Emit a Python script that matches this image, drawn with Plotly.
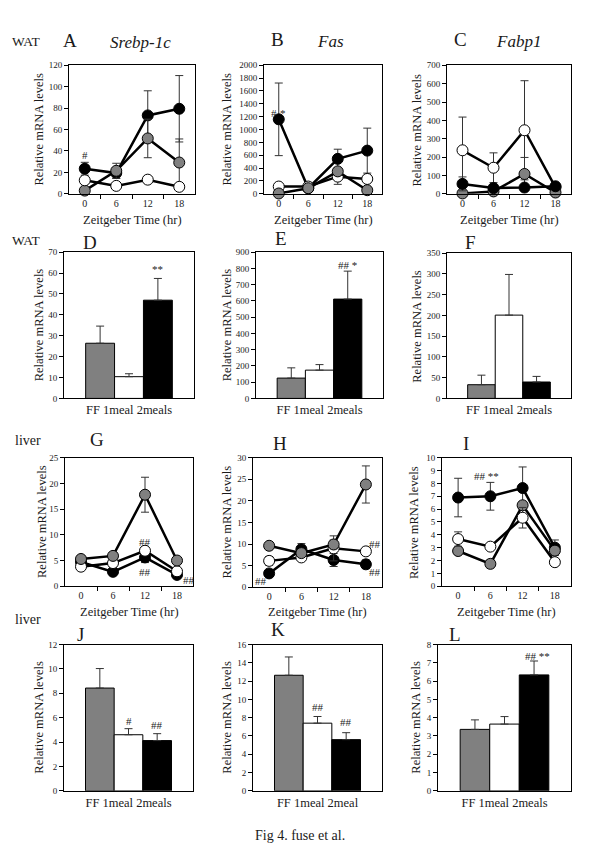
import plotly.graph_objects as go

# ---------------- data ----------------
ZT = [0, 6, 12, 18]
ZT_labels = ["0", "6", "12", "18"]
GROUPS = ["FF", "1meal", "2meals"]

# WAT time courses
A_black = [23.4, 19.4, 73.2, 79.4]; A_black_err = [6, 5, 23, 31]
A_gray = [3, 21.5, 51.7, 29.2];     A_gray_err = [1, 7, 18, 22]
A_white = [12.6, 7.4, 13.2, 6.5];   A_white_err = [3, 2, 3, 2]

B_black = [1159, 87, 544, 672];     B_black_err = [565, 20, 150, 350]
B_gray = [5, 87, 349, 56];          B_gray_err = [5, 20, 60, 20]
B_white = [113, 113, 267, 231];     B_white_err = [20, 20, 120, 30]

C_black = [54, 31, 34, 41];         C_black_err = [38, 10, 10, 10]
C_gray = [2, 13, 108, 7];           C_gray_err = [2, 5, 90, 3]
C_white = [237, 142, 346, 35];      C_white_err = [181, 81, 270, 10]

# WAT bars (FF, 1meal, 2meals)
D_vals = [26.4, 10.4, 47.0];  D_err = [8.2, 1.4, 10.4]
E_vals = [125, 174, 611];     E_err = [63, 34, 172]
F_vals = [33, 200.6, 39.5];   F_err = [23, 98, 13.5]

# liver time courses
G_black = [4.7, 2.8, 5.6, 2.2];     G_black_err = [0.3, 0.3, 1.0, 0.3]
G_gray = [5.3, 5.9, 17.8, 5.0];     G_gray_err = [0.3, 0.3, 3.4, 0.3]
G_white = [3.8, 4.5, 6.9, 2.9];     G_white_err = [0.3, 0.3, 0.5, 0.3]

H_black = [3.2, 8.8, 6.3, 5.3];     H_black_err = [0.5, 1.3, 1.5, 1.0]
H_gray = [9.6, 7.9, 9.9, 23.8];     H_gray_err = [0.5, 0.5, 1.0, 4.3]
H_white = [6.1, 6.9, 9.0, 8.3];     H_white_err = [1.0, 0.6, 2.9, 0.5]

I_black = [6.9, 7.0, 7.64, 3.0];    I_black_err = [1.5, 1.08, 1.64, 0.6]
I_gray = [2.74, 1.74, 6.3, 2.77];   I_gray_err = [0.25, 0.3, 0.3, 0.3]
I_white = [3.67, 3.08, 5.33, 1.87]; I_white_err = [0.56, 0.1, 0.8, 0.1]

# liver bars
J_vals = [8.43, 4.6, 4.12];   J_err = [1.6, 0.5, 0.57]
K_vals = [12.64, 7.4, 5.6];   K_err = [2.0, 0.73, 0.76]
L_vals = [3.36, 3.65, 6.34];  L_err = [0.52, 0.41, 0.76]

# ---------------- layout helpers ----------------
W, H = 600, 867
FONT = "Liberation Serif, Times New Roman, DejaVu Serif, serif"
TXT = "#1a1a1a"
GRAY = "#808080"
BAR_POS = [-1, 0, 1]

def xd(a, b):
    return [a / W, b / W]

def yd(top, bot):
    return [1 - bot / H, 1 - top / H]

# panel: (kind, x0, x1, ytop, ybot, ymax, dtick)
panels = {
    "A": ("line", 69, 195, 61, 191, 120, 20),
    "B": ("line", 264, 382, 61, 191, 2000, 200),
    "C": ("line", 447, 571, 61, 191, 700, 100),
    "D": ("bar", 64, 194, 250, 398, 70, 10),
    "E": ("bar", 256, 383, 250, 398, 900, 100),
    "F": ("bar", 447, 571, 251, 398, 350, 50),
    "G": ("line", 65, 193, 458, 588, 25, 5),
    "H": ("line", 253, 382, 458, 589, 30, 5),
    "I": ("line", 442, 571, 458, 588, 10, 1),
    "J": ("bar", 64, 193, 647, 795, 12, 2),
    "K": ("bar", 253, 382, 647, 795, 16, 2),
    "L": ("bar", 438, 571, 647, 795, 8, 1),
}
bar_labels = {"D": "FF 1meal 2meals", "E": "FF 1meal 2meals", "F": "FF 1meal 2meals",
              "J": "FF 1meal 2meals", "K": "FF 1meal 2meal", "L": "FF 1meal 2meals"}

line_data = {
    "A": [(A_black, A_black_err, "black"), (A_gray, A_gray_err, GRAY), (A_white, A_white_err, "white")],
    "B": [(B_black, B_black_err, "black"), (B_white, B_white_err, "white"), (B_gray, B_gray_err, GRAY)],
    "C": [(C_white, C_white_err, "white"), (C_gray, C_gray_err, GRAY), (C_black, C_black_err, "black")],
    "G": [(G_black, G_black_err, "black"), (G_white, G_white_err, "white"), (G_gray, G_gray_err, GRAY)],
    "H": [(H_black, H_black_err, "black"), (H_white, H_white_err, "white"), (H_gray, H_gray_err, GRAY)],
    "I": [(I_black, I_black_err, "black"), (I_gray, I_gray_err, GRAY), (I_white, I_white_err, "white")],
}
bar_data = {"D": (D_vals, D_err), "E": (E_vals, E_err), "F": (F_vals, F_err),
            "J": (J_vals, J_err), "K": (K_vals, K_err), "L": (L_vals, L_err)}

fig = go.Figure()
layout = dict(width=W, height=H, margin=dict(l=0, r=0, t=0, b=0),
              paper_bgcolor="white", plot_bgcolor="white", showlegend=False,
              font=dict(family=FONT, color=TXT))
annotations = []
axis_ref = {}

for i, (name, (kind, x0, x1, yt, yb, ymax, dt)) in enumerate(panels.items(), start=1):
    sfx = "" if i == 1 else str(i)
    xa, ya = "x" + sfx, "y" + sfx
    axis_ref[name] = (xa, ya)
    yax = dict(domain=yd(yt, yb), anchor=xa, range=[0, ymax], dtick=dt, tick0=0,
               showgrid=False, zeroline=False, showline=True, linecolor="black",
               linewidth=1, mirror=True, ticks="outside", ticklen=4, tickwidth=1,
               tickcolor="black", tickfont=dict(family=FONT, size=9, color=TXT))
    if kind == "line":
        xax = dict(domain=xd(x0, x1), anchor=ya, range=[-3, 21], tickmode="array",
                   tickvals=ZT, ticktext=ZT_labels, ticks="", showgrid=False,
                   zeroline=False, showline=True, linecolor="black", linewidth=1,
                   mirror=True, tickfont=dict(family=FONT, size=10, color=TXT),
                   minor=dict(tickvals=[3, 9, 15], ticks="outside", ticklen=4,
                              tickcolor="black", tickwidth=1))
        for vals, err, col in line_data[name]:
            fig.add_trace(go.Scatter(
                x=ZT, y=vals, mode="lines+markers", xaxis=xa, yaxis=ya,
                line=dict(color="black", width=2.5),
                marker=dict(size=11, color=col, line=dict(color="black", width=1)),
                error_y=dict(type="data", array=err, color="#333333", thickness=1, width=4),
                cliponaxis=False))
        ty = 218 if yb < 300 else 614
        annotations.append(dict(text="Zeitgeber Time (hr)", x=(x0 + x1) / 2 / W,
                                y=1 - ty / H, xref="paper", yref="paper",
                                showarrow=False, font=dict(family=FONT, size=12.5, color=TXT),
                                xanchor="center", yanchor="middle"))
    else:
        xax = dict(domain=xd(x0, x1), anchor=ya, range=[-2.25, 2.25], tickmode="array",
                   tickvals=[0], ticktext=[bar_labels[name]], ticks="", showgrid=False,
                   zeroline=False, showline=True, linecolor="black", linewidth=1,
                   mirror=True, tickfont=dict(family=FONT, size=12.5, color=TXT))
        vals, err = bar_data[name]
        fig.add_trace(go.Bar(
            x=BAR_POS, y=vals, width=1, xaxis=xa, yaxis=ya,
            marker=dict(color=[GRAY, "white", "black"], line=dict(color="black", width=1)),
            error_y=dict(type="data", array=err, arrayminus=[0, 0, 0], color="#333333",
                         thickness=1, width=4),
            hovertext=GROUPS))
    layout["xaxis" + sfx] = xax
    layout["yaxis" + sfx] = yax

# y titles
ytitle_x = {"A": 39, "B": 227, "C": 417, "D": 39, "E": 227, "F": 417,
            "G": 42, "H": 227, "I": 414, "J": 39, "K": 227, "L": 416}
for name, (kind, x0, x1, yt, yb, ymax, dt) in panels.items():
    annotations.append(dict(text="Relative mRNA levels", x=ytitle_x[name] / W,
                            y=1 - (yt + yb) / 2 / H, xref="paper", yref="paper",
                            textangle=-90, showarrow=False,
                            font=dict(family=FONT, size=12.5, color=TXT),
                            xanchor="center", yanchor="middle"))

def ptext(text, px, py, size, italic=False):
    t = "<i>" + text + "</i>" if italic else text
    annotations.append(dict(text=t, x=px / W, y=1 - py / H, xref="paper", yref="paper",
                            showarrow=False, font=dict(family=FONT, size=size, color=TXT),
                            xanchor="center", yanchor="middle"))

# panel letters, tissue labels, gene names
ptext("WAT", 26, 37, 13.5)
ptext("A", 70, 36, 19)
ptext("Srebp-1c", 140, 38, 17, italic=True)
ptext("B", 277, 35, 19)
ptext("Fas", 330, 37, 17, italic=True)
ptext("C", 460, 35, 19)
ptext("Fabp1", 518, 37, 17, italic=True)
ptext("WAT", 26, 238, 13.5)
ptext("D", 90, 240, 19)
ptext("E", 281, 236, 19)
ptext("F", 470, 240, 19)
ptext("liver", 28, 441, 14)
ptext("G", 97, 440, 19)
ptext("H", 280, 444, 19)
ptext("I", 466, 444, 19)
ptext("liver", 28, 622, 14)
ptext("J", 80, 637, 19)
ptext("K", 278, 632, 19)
ptext("L", 455, 637, 19)
ptext("Fig 4. fuse et al.", 300, 840, 14)

def dtext(panel, text, x, y, size=11):
    xa, ya = axis_ref[panel]
    annotations.append(dict(text=text, x=x, y=y, xref=xa, yref=ya, showarrow=False,
                            font=dict(family=FONT, size=size, color=TXT),
                            xanchor="center", yanchor="middle"))

# significance marks
dtext("A", "#", 0, 36)
dtext("B", "#", -1.0, 1250)
dtext("B", "*", 0.9, 1260)
dtext("D", "**", 1, 61.8)
dtext("E", "## *", 1, 819)
dtext("G", "##", 12, 8.65)
dtext("G", "##", 12, 2.7)
dtext("G", "#", 21.7, 3.7)
dtext("G", "##", 20.3, 1.3)
dtext("H", "##", -1.5, 1.5)
dtext("H", "##", 19.7, 9.9)
dtext("H", "##", 19.7, 3.6)
dtext("I", "## **", 5.2, 8.6)
dtext("J", "#", 0, 5.75)
dtext("J", "##", 1, 5.37)
dtext("K", "##", 0, 9.2)
dtext("K", "##", 1, 7.58)
dtext("L", "## **", 1.1, 7.4)

layout["annotations"] = annotations
fig.update_layout(**layout)
fig.write_html("out.html", config={"displayModeBar": False},
               post_script="document.body.style.margin='0';document.body.style.overflow='hidden';")
